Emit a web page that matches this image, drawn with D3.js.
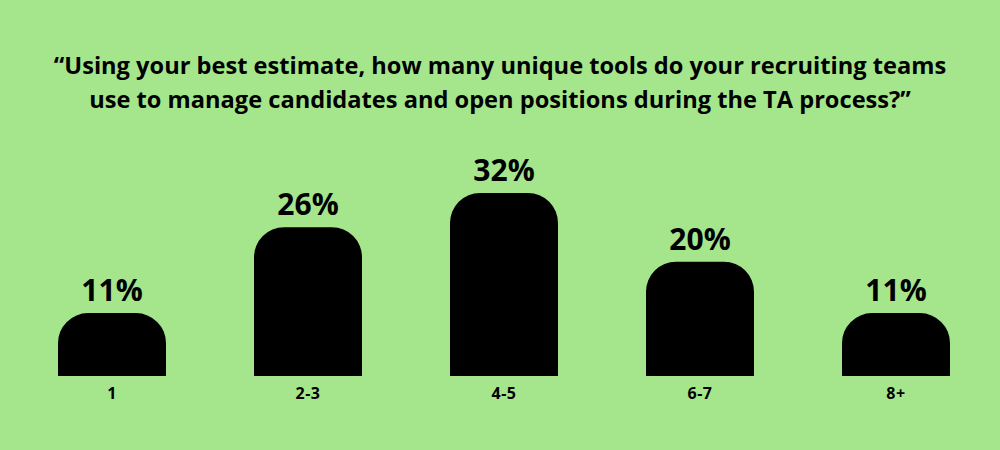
<!DOCTYPE html>
<html><head><meta charset="utf-8">
<script src="https://cdn.jsdelivr.net/npm/d3@7"></script>
<style>html,body{margin:0;padding:0;background:#a5e68c;}svg{display:block;}</style>
</head><body>
<script>
const categories = ["1", "2-3", "4-5", "6-7", "8+"];
const values = [11, 26, 32, 20, 11];
const titleLines = [
  "\u201cUsing your best estimate, how many unique tools do your recruiting teams",
  "use to manage candidates and open positions during the TA process?\u201d"
];

const W = 1000, H = 450;
const svg = d3.select("body").append("svg").attr("width", W).attr("height", H);
svg.append("rect").attr("width", W).attr("height", H).attr("fill", "#a5e68c");

const x = d3.scaleBand().domain(categories).range([14, 994]).paddingInner(0.449).paddingOuter(0.2245);
const y = d3.scaleLinear().domain([0, 32]).range([376, 193]);
const r = 30;

function arcBar(x0, w, yt, yb) {
  const rr = Math.min(r, (yb - yt), w / 2);
  return `M${x0},${yb}V${yt + rr}A${rr},${rr} 0 0 1 ${x0 + rr},${yt}H${x0 + w - rr}A${rr},${rr} 0 0 1 ${x0 + w},${yt + rr}V${yb}Z`;
}

svg.selectAll("path.bar").data(categories).join("path")
  .attr("class", "bar")
  .attr("d", (c, i) => arcBar(x(c), x.bandwidth(), y(values[i]), y(0)))
  .attr("fill", "#000");

svg.selectAll("text.val").data(categories).join("text")
  .attr("class", "val")
  .attr("x", c => x(c) + x.bandwidth() / 2)
  .attr("y", (c, i) => y(values[i]) - 12)
  .attr("text-anchor", "middle")
  .attr("font-family", "'Open Sans', sans-serif")
  .attr("font-weight", 700)
  .attr("font-size", 30)
  .attr("fill", "#000")
  .text((c, i) => values[i] + "%");

const xAxis = d3.axisBottom(x).tickSize(0).tickPadding(0);
const ax = svg.append("g").attr("transform", "translate(0,376)").call(xAxis);
ax.select(".domain").remove();
ax.selectAll("text")
  .attr("dy", 0).attr("y", 23)
  .attr("font-family", "'Open Sans', sans-serif")
  .attr("font-weight", 700)
  .attr("font-size", 16)
  .attr("letter-spacing", 0.5)
  .attr("fill", "#000");

const tt = svg.selectAll("text.title").data(titleLines).join("text")
  .attr("class", "title")
  .attr("x", 500)
  .attr("y", (d, i) => 74 + i * 34)
  .attr("text-anchor", "middle")
  .attr("font-family", "'Open Sans', sans-serif")
  .attr("font-weight", 700)
  .attr("font-size", 22)
  .attr("fill", "#000")
  .text(d => d);
const len = tt.node().getComputedTextLength();
const fs = 22 * 893 / len;
tt.attr("font-size", fs);
</script>
</body></html>
